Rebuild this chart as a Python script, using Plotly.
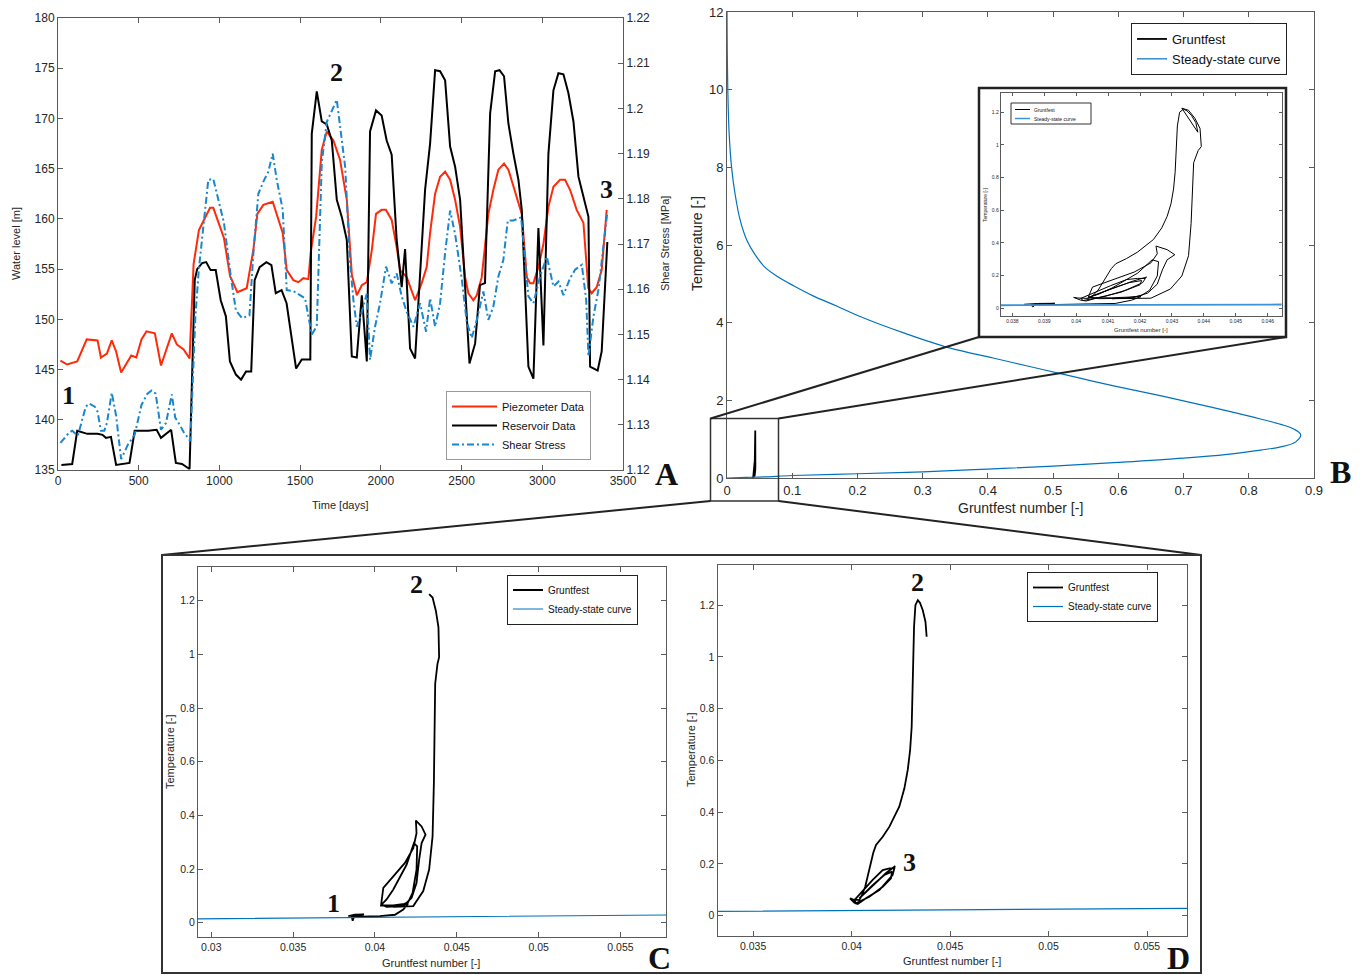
import plotly.graph_objects as go

W, H = 1363, 975
def px(x): return x / W
def py(y): return 1 - y / H

# ---------------- Panel A data ----------------
piezo_days = [15, 56, 119, 178, 245, 266, 303, 333, 360, 391, 454, 485, 517, 548, 600, 638, 705, 736, 778, 815,
              840, 873, 942, 962, 1028, 1066, 1111, 1169, 1210, 1235, 1272, 1330, 1392, 1417, 1458, 1489, 1520, 1551,
              1565, 1599, 1634, 1665, 1706, 1747, 1789, 1820, 1851, 1882, 1913, 1944, 1970, 2005, 2031, 2067, 2098,
              2119, 2160, 2212, 2253, 2284, 2305, 2336, 2367, 2398, 2429, 2460, 2491, 2522, 2542, 2573, 2594, 2625,
              2666, 2697, 2728, 2763, 2790, 2821, 2852, 2873, 2904, 2924, 2945, 2976, 3007, 3038, 3069, 3110, 3141,
              3172, 3213, 3255, 3285, 3306, 3337, 3368, 3399]
piezo_level = [145.9, 145.5, 145.8, 148.0, 147.9, 146.2, 146.6, 147.9, 146.8, 144.7, 146.4, 146.2, 148.0, 148.8,
               148.6, 145.4, 148.6, 147.5, 147.0, 146.1, 155.5, 158.9, 161.1, 161.1, 158.1, 154.3, 152.7, 153.1,
               156.9, 160.5, 161.4, 161.7, 158.6, 154.9, 153.9, 153.7, 154.1, 154.0, 156.6, 160.2, 166.9, 168.7,
               167.8, 165.9, 161.9, 154.5, 152.4, 153.4, 153.7, 156.9, 160.5, 160.9, 160.9, 159.9, 157.2, 154.9,
               154.2, 151.9, 153.6, 155.2, 158.6, 162.5, 164.2, 164.7, 163.9, 161.9, 159.2, 154.2, 152.6, 151.9,
               152.4, 154.2, 160.5, 162.9, 164.9, 165.5, 164.9, 163.2, 161.5, 160.5, 154.2, 153.6, 153.6, 155.2,
               157.5, 161.2, 163.2, 163.9, 163.9, 162.9, 160.9, 159.6, 153.1, 152.6, 153.2, 154.9, 160.9]

res_days = [21, 88, 119, 182, 245, 276, 297, 328, 360, 423, 443, 475, 559, 611, 638, 701, 730, 768, 815, 847,
            862, 893, 918, 945, 977, 1008, 1040, 1065, 1102, 1134, 1165, 1197, 1218, 1249, 1291, 1322, 1349, 1385,
            1416, 1475, 1510, 1563, 1572, 1603, 1634, 1665, 1696, 1727, 1758, 1789, 1820, 1851, 1882, 1913, 1933,
            1970, 2005, 2036, 2067, 2098, 2129, 2150, 2181, 2212, 2243, 2274, 2305, 2336, 2367, 2398, 2429, 2460,
            2491, 2511, 2549, 2584, 2614, 2645, 2677, 2708, 2735, 2763, 2790, 2821, 2852, 2873, 2914, 2945, 2976,
            3007, 3038, 3069, 3100, 3131, 3162, 3193, 3224, 3255, 3286, 3296, 3343, 3368, 3403]
res_level = [135.5, 135.6, 138.9, 138.6, 138.6, 138.5, 138.2, 138.3, 135.5, 135.6, 135.7, 138.9, 138.9, 139.0,
             138.2, 139.0, 135.7, 135.6, 135.1, 153.9, 155.0, 155.6, 155.7, 154.9, 154.9, 151.9, 150.3, 145.8,
             144.5, 144.0, 144.8, 144.8, 153.9, 155.2, 155.7, 155.4, 152.6, 152.9, 151.6, 145.1, 146.0, 146.0,
             168.5, 172.7, 169.7, 169.4, 167.8, 161.9, 160.2, 157.9, 146.3, 146.2, 152.4, 145.8, 168.7, 170.8,
             170.3, 167.8, 166.4, 157.9, 153.2, 157.0, 147.1, 146.1, 154.0, 162.9, 167.5, 174.8, 174.7, 173.8,
             167.2, 165.2, 161.9, 155.9, 145.6, 147.6, 153.4, 153.6, 170.5, 174.7, 174.8, 174.2, 169.5, 166.5,
             163.9, 160.9, 145.3, 144.1, 159.1, 147.4, 166.5, 172.8, 174.5, 174.4, 172.5, 169.7, 164.2, 162.2,
             160.2, 145.3, 144.9, 146.8, 157.7]

shear_days = [15, 67, 88, 123, 172, 192, 228, 245, 266, 287, 303, 333, 360, 391, 433, 475, 517, 554, 580, 605,
              638, 669, 705, 726, 757, 778, 820, 851, 872, 931, 962, 1028, 1071, 1102, 1140, 1186, 1210, 1241,
              1272, 1303, 1330, 1355, 1392, 1417, 1458, 1530, 1572, 1603, 1634, 1665, 1727, 1779, 1809, 1830,
              1851, 1882, 1913, 1933, 1964, 1995, 2032, 2067, 2098, 2129, 2160, 2202, 2243, 2280, 2305, 2336,
              2367, 2398, 2429, 2460, 2502, 2532, 2563, 2594, 2635, 2666, 2697, 2728, 2759, 2786, 2821, 2869,
              2914, 2945, 2986, 3028, 3069, 3100, 3131, 3172, 3203, 3245, 3272, 3286, 3317, 3348, 3403]
shear_mpa = [1.1260, 1.1282, 1.1287, 1.1276, 1.1340, 1.1347, 1.1340, 1.1329, 1.1287, 1.1287, 1.1304, 1.1371,
             1.1320, 1.1224, 1.1256, 1.1278, 1.1344, 1.1369, 1.1376, 1.1369, 1.1289, 1.1304, 1.1367, 1.1316,
             1.1298, 1.1284, 1.1264, 1.1540, 1.1642, 1.1842, 1.1844, 1.1747, 1.1627, 1.1553, 1.1536, 1.1542,
             1.1678, 1.1811, 1.1838, 1.1860, 1.1900, 1.1842, 1.1776, 1.1598, 1.1596, 1.1580, 1.1500, 1.1518,
             1.1880, 1.1970, 1.2019, 1.1870, 1.1660, 1.1576, 1.1517, 1.1550, 1.1590, 1.1444, 1.1517, 1.1569,
             1.1650, 1.1613, 1.1635, 1.1584, 1.1550, 1.1517, 1.1569, 1.1506, 1.1580, 1.1517, 1.1569, 1.1680,
             1.1774, 1.1722, 1.1620, 1.1528, 1.1492, 1.1532, 1.1595, 1.1532, 1.1562, 1.1628, 1.1665, 1.1752,
             1.1752, 1.1759, 1.1584, 1.1569, 1.1628, 1.1672, 1.1606, 1.1617, 1.1587, 1.1624, 1.1643, 1.1654,
             1.1576, 1.1451, 1.1540, 1.1599, 1.1770]

# ---------------- Steady-state curve ----------------
ss_gr = [0, 0.03, 0.058, 0.1, 0.2, 0.3, 0.4, 0.5, 0.6, 0.7, 0.767, 0.818, 0.849, 0.872, 0.8795, 0.869, 0.849,
         0.818, 0.767, 0.715, 0.664, 0.613, 0.562, 0.513, 0.459, 0.408, 0.341, 0.272, 0.204, 0.168, 0.132, 0.102,
         0.078, 0.058, 0.043, 0.031, 0.0205, 0.0125, 0.0070, 0.0032, 0.0012, 0.0004, 0]
ss_temp = [0, 0.0155, 0.029, 0.065, 0.11, 0.16, 0.23, 0.305, 0.40, 0.51, 0.61, 0.72, 0.80, 0.93, 1.12, 1.26, 1.38,
           1.52, 1.73, 1.93, 2.12, 2.30, 2.49, 2.68, 2.89, 3.09, 3.35, 3.73, 4.16, 4.43, 4.69, 4.95, 5.18, 5.43,
           5.75, 6.10, 6.62, 7.30, 8.00, 8.9, 10.02, 11.0, 12.0]

# ---------------- Gruntfest trajectory: C (1 -> 2), D (2 -> 3) ----------------
grC_x = [0.03837, 0.03878, 0.03933, 0.03898, 0.03858, 0.03864, 0.03872, 0.03909, 0.04030, 0.04122, 0.04173,
         0.04203, 0.04112, 0.04037, 0.04051, 0.04112, 0.04183, 0.04234, 0.04254, 0.04250, 0.04285, 0.04309,
         0.04285, 0.04270, 0.04254, 0.04224, 0.04173, 0.04071, 0.04041, 0.04071, 0.04112, 0.04193, 0.04238,
         0.04258, 0.04254, 0.04230, 0.04203, 0.04152, 0.04112, 0.04234, 0.04295, 0.04331, 0.04352, 0.04360,
         0.04366, 0.04368, 0.04382, 0.04392, 0.04388, 0.04372, 0.04352, 0.04331]
grC_t = [0.0247, 0.0297, 0.0309, 0.0260, 0.0223, 0.0074, 0.0235, 0.0223, 0.0247, 0.0297, 0.0495, 0.0717, 0.0643,
         0.0643, 0.130, 0.173, 0.223, 0.278, 0.334, 0.381, 0.359, 0.328, 0.297, 0.235, 0.148, 0.093, 0.062, 0.059,
         0.068, 0.087, 0.124, 0.216, 0.297, 0.285, 0.198, 0.111, 0.077, 0.062, 0.059, 0.062, 0.118, 0.198, 0.322,
         0.520, 0.767, 0.891, 0.965, 0.990, 1.101, 1.163, 1.212, 1.225]
grD_x = [0.04381, 0.04375, 0.04361, 0.04347, 0.04336, 0.04324, 0.04317, 0.04314, 0.04310, 0.04305, 0.04297,
         0.04285, 0.04268, 0.04242, 0.04225, 0.04192, 0.04158, 0.04124, 0.04110, 0.04090, 0.04069, 0.04053,
         0.04039, 0.04005, 0.03992, 0.04014, 0.04031, 0.04073, 0.04141, 0.04208, 0.04217, 0.04192, 0.04158,
         0.04107, 0.04047, 0.04014, 0.04022, 0.04090, 0.04158, 0.04200, 0.04205, 0.04166, 0.04107, 0.04056,
         0.04039, 0.04107, 0.04175, 0.04222]
grD_t = [1.078, 1.136, 1.181, 1.209, 1.219, 1.200, 1.116, 0.988, 0.833, 0.730, 0.640, 0.563, 0.492, 0.421, 0.395,
         0.344, 0.305, 0.273, 0.243, 0.176, 0.112, 0.080, 0.0605, 0.063, 0.067, 0.050, 0.045, 0.067, 0.099, 0.157,
         0.183, 0.183, 0.176, 0.138, 0.086, 0.0605, 0.048, 0.073, 0.112, 0.144, 0.170, 0.157, 0.118, 0.080, 0.067,
         0.118, 0.165, 0.192]
gr_all_x = grC_x + grD_x
gr_all_t = grC_t + grD_t

FONT = "Liberation Sans, Arial, Helvetica, sans-serif"
SERIF = "Liberation Serif, Times New Roman, serif"
AX = "#5a5a5a"
TXT = "#262626"
RED = "#FF2A0A"
BLUE_A = "#1A86CC"
SS_BLUE = "#0072BD"

fig = go.Figure()

# Panel A
fig.add_trace(go.Scatter(x=piezo_days, y=piezo_level, mode="lines", name="Piezometer Data",
                         line=dict(color=RED, width=2), xaxis="x", yaxis="y", legend="legend"))
fig.add_trace(go.Scatter(x=res_days, y=res_level, mode="lines", name="Reservoir Data",
                         line=dict(color="black", width=2), xaxis="x", yaxis="y", legend="legend"))
fig.add_trace(go.Scatter(x=shear_days, y=shear_mpa, mode="lines", name="Shear Stress",
                         line=dict(color=BLUE_A, width=2, dash="7px,3px,2px,3px"),
                         xaxis="x", yaxis="y2", legend="legend"))

# Panel B
fig.add_trace(go.Scatter(x=gr_all_x, y=gr_all_t, mode="lines", name="Gruntfest",
                         line=dict(color="black", width=1.8), xaxis="x2", yaxis="y3", legend="legend2"))
fig.add_trace(go.Scatter(x=ss_gr, y=ss_temp, mode="lines", name="Steady-state curve",
                         line=dict(color=SS_BLUE, width=1.2, shape="spline", smoothing=1.0),
                         xaxis="x2", yaxis="y3", legend="legend2"))

# Inset
fig.add_trace(go.Scatter(x=gr_all_x, y=gr_all_t, mode="lines", name="Gruntfest", showlegend=False,
                         line=dict(color="black", width=1), xaxis="x3", yaxis="y4"))
fig.add_trace(go.Scatter(x=ss_gr, y=ss_temp, mode="lines", name="Steady-state curve", showlegend=False,
                         line=dict(color="#3d93d6", width=1.8), xaxis="x3", yaxis="y4"))

# Panel C
fig.add_trace(go.Scatter(x=grC_x, y=grC_t, mode="lines", name="Gruntfest",
                         line=dict(color="black", width=1.8), xaxis="x4", yaxis="y5", legend="legend4"))
fig.add_trace(go.Scatter(x=ss_gr, y=ss_temp, mode="lines", name="Steady-state curve",
                         line=dict(color=SS_BLUE, width=1.2), xaxis="x4", yaxis="y5", legend="legend4"))

# Panel D
fig.add_trace(go.Scatter(x=grD_x, y=grD_t, mode="lines", name="Gruntfest",
                         line=dict(color="black", width=1.8), xaxis="x5", yaxis="y6", legend="legend5"))
fig.add_trace(go.Scatter(x=ss_gr, y=ss_temp, mode="lines", name="Steady-state curve",
                         line=dict(color=SS_BLUE, width=1.2), xaxis="x5", yaxis="y6", legend="legend5"))


def axis(domain, rng, tickvals, fs, anchor, ticklen=5, mirror="ticks", **kw):
    return dict(domain=domain, range=rng, tickvals=tickvals, showline=True, linecolor=AX, linewidth=1,
                mirror=mirror, ticks="inside", ticklen=ticklen, tickcolor=AX, automargin=False,
                tickfont=dict(family=FONT, size=fs, color=TXT), showgrid=False, zeroline=False,
                anchor=anchor, **kw)

A_x = [px(58), px(623)]
A_y = [py(470), py(18)]
B_x = [px(727), px(1314)]
B_y = [py(478), py(12)]
I_x = [px(1000.7), px(1281.7)]
I_y = [py(316), py(93.3)]
C_x = [px(198), px(666)]
C_y = [py(937), py(567)]
D_x = [px(717.5), px(1187)]
D_y = [py(936), py(564.5)]

def legend(xl, yc, fs, border, **kw):
    return dict(x=px(xl), y=py(yc), xanchor="left", yanchor="middle", bgcolor="white", bordercolor=border,
                borderwidth=1, font=dict(family=FONT, size=fs, color="#111"), tracegroupgap=0, **kw)

fig.update_layout(
    width=W, height=H, margin=dict(l=0, r=0, t=0, b=0, pad=0, autoexpand=False), autosize=False,
    paper_bgcolor="white", plot_bgcolor="white",
    xaxis=axis(A_x, [0, 3500], [0, 500, 1000, 1500, 2000, 2500, 3000, 3500], 12, "y"),
    yaxis=axis(A_y, [135, 180], [135, 140, 145, 150, 155, 160, 165, 170, 175, 180], 12, "x", mirror=False),
    yaxis2=axis(A_y, [1.12, 1.22], [1.12, 1.13, 1.14, 1.15, 1.16, 1.17, 1.18, 1.19, 1.20, 1.21, 1.22], 12, "x",
                mirror=False, overlaying="y", side="right"),
    xaxis2=axis(B_x, [0, 0.9], [0, 0.1, 0.2, 0.3, 0.4, 0.5, 0.6, 0.7, 0.8, 0.9], 13, "y3"),
    yaxis3=axis(B_y, [0, 12], [0, 2, 4, 6, 8, 10, 12], 13, "x2"),
    xaxis3=axis(I_x, [0.037634, 0.046439], [0.038, 0.039, 0.04, 0.041, 0.042, 0.043, 0.044, 0.045, 0.046],
                5, "y4", ticklen=3),
    yaxis4=axis(I_y, [-0.047, 1.316], [0, 0.2, 0.4, 0.6, 0.8, 1, 1.2], 5, "x3", ticklen=3),
    xaxis4=axis(C_x, [0.02919, 0.05778], [0.03, 0.035, 0.04, 0.045, 0.05, 0.055], 10.5, "y5"),
    yaxis5=axis(C_y, [-0.0532, 1.326], [0, 0.2, 0.4, 0.6, 0.8, 1, 1.2], 10.5, "x4"),
    xaxis5=axis(D_x, [0.03319, 0.05703], [0.035, 0.04, 0.045, 0.05, 0.055], 10.5, "y6"),
    yaxis6=axis(D_y, [-0.0785, 1.357], [0, 0.2, 0.4, 0.6, 0.8, 1, 1.2], 10.5, "x5"),
    legend=legend(446, 425.5, 11, "#9a9a9a", itemwidth=45),
    legend2=legend(1131, 49, 13, "#222"),
    legend4=legend(507, 599.5, 10, "#222"),
    legend5=legend(1027, 597, 10, "#222"),
)

shapes = []
def line(x0, y0, x1, y1, w=2, color="#222"):
    shapes.append(dict(type="line", xref="paper", yref="paper", x0=px(x0), y0=py(y0), x1=px(x1), y1=py(y1),
                       line=dict(color=color, width=w), layer="above"))

# inset frame (white, below traces)
shapes.append(dict(type="rect", xref="paper", yref="paper", x0=px(979), y0=py(337), x1=px(1286), y1=py(88),
                   line=dict(color="#222", width=2.5), fillcolor="white", layer="below"))
# zoom rectangle in B
shapes.append(dict(type="rect", xref="paper", yref="paper", x0=px(710.5), y0=py(501), x1=px(778.5), y1=py(418.5),
                   line=dict(color="#333", width=1.5), layer="above"))
line(710.5, 418.5, 979, 337)
line(778.5, 418.5, 1286, 337)
line(710.5, 501, 162, 555)
line(778.5, 501, 1201, 555)
# big frame around C and D
shapes.append(dict(type="rect", xref="paper", yref="paper", x0=px(162), y0=py(973), x1=px(1201), y1=py(555),
                   line=dict(color="#333", width=2), layer="above"))
# inset legend (manual, tiny)
shapes.append(dict(type="rect", xref="paper", yref="paper", x0=px(1011), y0=py(124), x1=px(1091), y1=py(103),
                   line=dict(color="#333", width=1), fillcolor="white", layer="above"))
line(1015, 109.5, 1030, 109.5, w=1, color="black")
line(1015, 118.5, 1030, 118.5, w=1.5, color="#3d93d6")

annotations = []
def text(x, y, s, size, font=FONT, angle=0, color=TXT, xanchor="center"):
    annotations.append(dict(x=px(x), y=py(y), xref="paper", yref="paper", text=s, showarrow=False,
                            font=dict(family=font, size=size, color=color), textangle=angle,
                            xanchor=xanchor, yanchor="middle"))

# axis titles
text(16, 244, "Water level [m]", 11, angle=-90)
text(665, 244, "Shear Stress [MPa]", 11, angle=-90)
text(340, 505, "Time [days]", 11)
text(697, 244, "Temperature [-]", 14, angle=-90)
text(1020, 508, "Gruntfest number [-]", 14)
text(985, 205, "Temperature [-]", 5, angle=-90)
text(1141, 330, "Gruntfest number [-]", 6)
text(170, 752, "Temperature [-]", 11, angle=-90)
text(431, 963, "Gruntfest number [-]", 11)
text(691, 750, "Temperature [-]", 11, angle=-90)
text(952, 961, "Gruntfest number [-]", 11)
# inset legend text
text(1032, 109.5, "Gruntfest", 5, color="#111", xanchor="left")
text(1032, 118.5, "Steady-state curve", 5, color="#111", xanchor="left")
# panel letters
for s, x, y in [("A", 666, 474), ("B", 1340, 472), ("C", 659, 958), ("D", 1178, 958)]:
    text(x, y, "<b>%s</b>" % s, 32, font=SERIF, color="#111")
# point labels
for s, x, y in [("1", 68, 396), ("2", 336, 73), ("3", 606, 190), ("2", 416, 584), ("1", 333, 903),
                ("2", 917, 582), ("3", 910, 862)]:
    text(x, y, "<b>%s</b>" % s, 26, font=SERIF, color="#111")

fig.update_layout(shapes=shapes, annotations=annotations)
fig.write_html("out.html")
